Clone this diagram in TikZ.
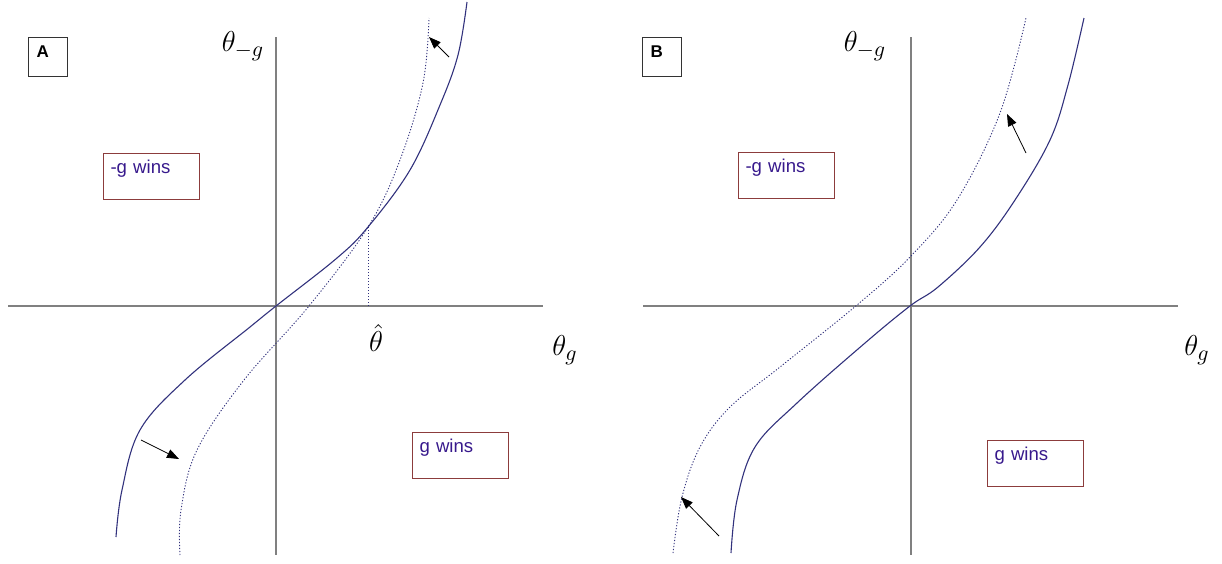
\documentclass[tikz,border=0pt]{standalone}
\usepackage{fontspec}
\setmainfont{Liberation Sans}
\usetikzlibrary{arrows.meta}

\definecolor{curveblue}{RGB}{50,50,125}
\definecolor{winsred}{RGB}{140,60,60}
\definecolor{winstext}{RGB}{55,25,140}
\definecolor{axisgray}{RGB}{128,128,128}

\tikzset{
  axisline/.style={draw=axisgray, line width=0.8pt},
  solidrule/.style={draw=curveblue, line width=0.55pt},
  dotrule/.style={draw=curveblue, line width=0.45pt, dash pattern=on 0.6pt off 0.9pt},
  push/.style={-{Triangle[length=6pt,width=4.5pt]}, line width=0.4pt},
  winsbox/.style={draw=winsred, line width=0.5pt, anchor=north west, text=winstext,
    font=\fontsize{9.3}{11}\selectfont, text width=41pt, align=left,
    inner xsep=3.5pt, inner ysep=2pt, text height=8pt, text depth=11pt},
  panelbox/.style={draw=black!80, line width=0.5pt, anchor=north west,
    font=\bfseries\fontsize{8.5}{10}\selectfont, text width=11.5pt, align=left,
    inner xsep=4pt, inner ysep=2pt, text height=8pt, text depth=7.5pt},
  axlabel/.style={font=\fontsize{15}{18}\selectfont}
}

\begin{document}
\begin{tikzpicture}[x=0.5pt, y=-0.5pt]
\useasboundingbox (0,0) rectangle (1222,563);

% panel A: axes
\coordinate (Atop) at (276,37);  \coordinate (Abot) at (276,555);
\coordinate (Aleft) at (8,306);  \coordinate (Aright) at (543,306);
\draw[axisline] (Atop) -- (Abot);
\draw[axisline] (Aleft) -- (Aright);
\node[panelbox] (Abox) at (28,37) {A};
\node[axlabel] (Ay) at (243,46) {$\theta_{-g}$};
\node[axlabel] (Ax) at (565,350) {$\theta_g$};
\node[axlabel] (Ahat) at (376,338) {$\hat{\theta}$};
% panel A: curves
\draw[solidrule] plot[smooth, tension=0.6] coordinates {
  (116,537) (122,490) (140,430) (185,380) (250,327) (276,306) (337,258)
  (368,227) (410,170) (440,105) (458,55) (467,2)};
\draw[dotrule] plot[smooth, tension=0.6] coordinates {
  (180,555) (181,510) (197,450) (244,380) (309,306) (368,227) (400,160)
  (423,83) (429,18)};
\coordinate (cross) at (368,227);
\coordinate (crossfoot) at (368,306);
\draw[dotrule] (cross) -- (crossfoot);
% panel A: shifts
\coordinate (Aa1) at (141,440); \coordinate (Aa2) at (179,459);
\coordinate (Ab1) at (449,57);  \coordinate (Ab2) at (429,37);
\draw[push] (Aa1) -- (Aa2);
\draw[push] (Ab1) -- (Ab2);
\node[winsbox] (Aminus) at (103,153) {-g wins};
\node[winsbox] (Aplus) at (412,432) {g wins};

% panel B: axes
\coordinate (Btop) at (911,37);  \coordinate (Bbot) at (911,555);
\coordinate (Bleft) at (643,306); \coordinate (Bright) at (1178,306);
\draw[axisline] (Btop) -- (Bbot);
\draw[axisline] (Bleft) -- (Bright);
\node[panelbox] (Bbox) at (642,37) {B};
\node[axlabel] (By) at (865,46) {$\theta_{-g}$};
\node[axlabel] (Bx) at (1197,350) {$\theta_g$};
% panel B: curves
\draw[solidrule] plot[smooth, tension=0.6] coordinates {
  (731,553) (737,500) (755,447) (797,403) (865,343) (910,306) (938,287)
  (980,247) (1015,200) (1050,140) (1068,85) (1084,18)};
\draw[dotrule] plot[smooth, tension=0.6] coordinates {
  (673,553) (682,497) (700,447) (730,407) (780,367) (857,305) (910,257)
  (957,200) (1000,113) (1026,18)};
% panel B: shifts
\coordinate (Ba1) at (1026,153); \coordinate (Ba2) at (1007,114);
\coordinate (Bb1) at (719,536);  \coordinate (Bb2) at (681,497);
\draw[push] (Ba1) -- (Ba2);
\draw[push] (Bb1) -- (Bb2);
\node[winsbox] (Bminus) at (738,152) {-g wins};
\node[winsbox] (Bplus) at (987,440) {g wins};
\end{tikzpicture}
\end{document}
